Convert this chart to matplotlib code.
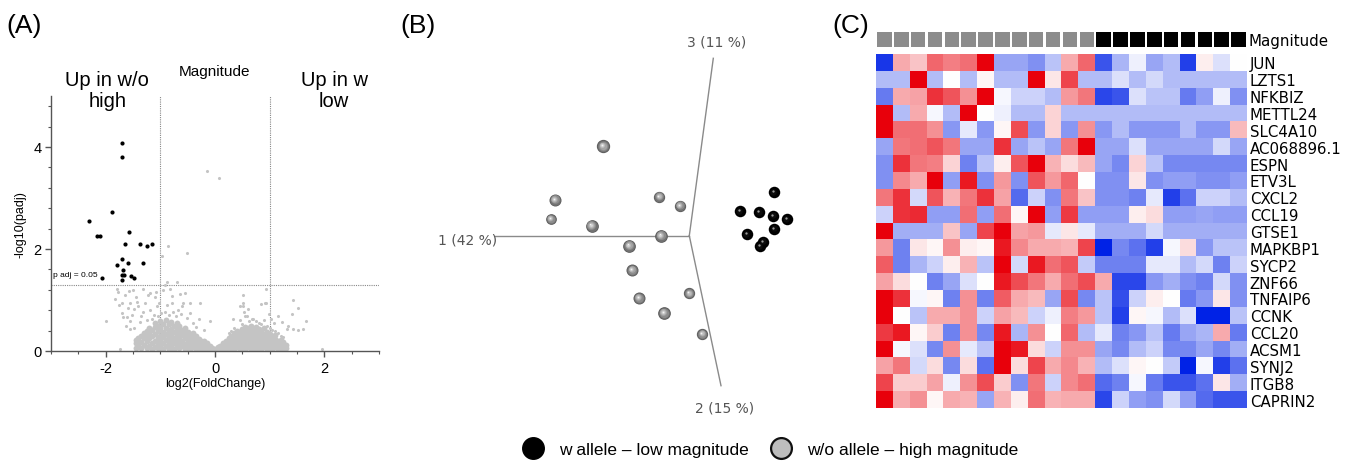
import numpy as np
import matplotlib
matplotlib.use("Agg")
import matplotlib.pyplot as plt
from matplotlib.colors import LinearSegmentedColormap
from matplotlib.lines import Line2D

# ---------------- DATA ----------------
# Panel A: volcano plot
sig_x = [-1.70, -1.70, -1.88, -2.31, -2.15, -2.11, -1.58, -1.65, -1.37, -1.25, -1.16,
         -1.70, -1.79, -1.59, -1.31, -1.69, -1.71, -1.67, -1.54, -1.48, -2.07, -1.71]
sig_y = [4.08, 3.80, 2.73, 2.54, 2.25, 2.25, 2.33, 2.09, 2.09, 2.05, 2.09,
         1.80, 1.68, 1.73, 1.73, 1.58, 1.50, 1.50, 1.48, 1.43, 1.44, 1.40]

ns_sparse = [(-0.15, 3.52), (0.07, 3.39), (-0.86, 2.05), (-0.51, 1.92), (-0.97, 1.86),
             (-1.80, 1.22), (-1.58, 1.18), (-1.50, 1.20), (-1.31, 1.21), (-0.88, 1.35),
             (-0.69, 1.36), (-0.91, 1.29), (-1.83, 1.02), (-1.99, 0.59), (-1.69, 0.66),
             (-1.70, 0.95), (-1.55, 0.95), (-1.43, 0.96), (-1.19, 1.13), (-1.10, 1.05),
             (-1.06, 0.88), (-0.82, 1.21), (-0.79, 1.08), (-0.64, 1.11), (-0.55, 1.13),
             (-0.46, 0.95), (-0.27, 0.95), (-0.09, 0.59), (-0.61, 0.88), (-0.76, 0.76),
             (-0.91, 0.77), (-1.31, 0.76), (-1.49, 0.82), (-1.61, 0.66), (-1.37, 0.56),
             (-1.55, 0.43), (-1.74, 0.04),
             (-1.75, 0.90), (-1.65, 1.10), (-1.60, 0.85), (-1.52, 0.70), (-1.45, 1.05),
             (-1.40, 0.88), (-1.35, 0.68), (-1.28, 0.95), (-1.22, 1.10), (-1.18, 0.80),
             (-1.12, 0.70), (-1.08, 1.15), (-1.02, 0.95), (-0.98, 0.75), (-0.95, 1.20),
             (-0.88, 0.90), (-0.85, 0.70), (-0.78, 0.95), (-0.72, 0.68), (-0.68, 0.80),
             (-0.62, 0.72), (-0.58, 0.95), (-0.52, 0.65), (-0.45, 0.75), (-0.40, 0.55),
             (-0.35, 0.48), (-0.30, 0.62), (-0.20, 0.42), (-1.55, 0.58), (-1.48, 0.45),
             (-1.62, 0.50), (-1.70, 0.75), (-1.78, 1.15), (-1.25, 0.60), (-1.15, 0.62),
             (-1.05, 0.68),
             (0.51, 1.10), (0.52, 0.95), (0.46, 0.88), (0.85, 0.93), (0.91, 0.94),
             (0.94, 1.21), (0.94, 0.95), (1.16, 0.69), (1.22, 0.56), (1.42, 1.00),
             (1.52, 0.85), (1.40, 0.72), (1.67, 0.59), (1.61, 0.44), (1.52, 0.41),
             (1.43, 0.43), (1.31, 0.43), (1.34, 0.49), (0.53, 0.76), (0.58, 0.69),
             (0.70, 0.63), (1.95, 0.04), (0.33, 0.63),
             (0.45, 0.60), (0.50, 0.52), (0.55, 0.68), (0.62, 0.58), (0.68, 0.62),
             (0.75, 0.58), (0.80, 0.55), (0.85, 0.52), (0.90, 0.60), (0.95, 0.50),
             (1.00, 0.45), (1.05, 0.42), (1.10, 0.40), (1.15, 0.35), (1.20, 0.30),
             (1.25, 0.28), (0.35, 0.45), (0.30, 0.40), (0.25, 0.35), (0.98, 0.72),
             (1.02, 0.62), (1.08, 0.55), (0.60, 0.82), (0.52, 0.88)]

ns_dense = [(-1.45, 0.05), (-1.45, 0.15), (-1.45, 0.22), (-1.40, 0.10), (-1.40, 0.25),
            (-1.35, 0.05), (-1.35, 0.18), (-1.35, 0.30), (-1.30, 0.12), (-1.30, 0.25),
            (-1.30, 0.35), (-1.25, 0.05), (-1.25, 0.20), (-1.25, 0.32), (-1.25, 0.40),
            (-1.20, 0.10), (-1.20, 0.25), (-1.20, 0.38), (-1.20, 0.45), (-1.15, 0.03),
            (-1.15, 0.15), (-1.15, 0.30), (-1.15, 0.42), (-1.10, 0.08), (-1.10, 0.20),
            (-1.10, 0.33), (-1.10, 0.48), (-1.10, 0.55), (-1.05, 0.05), (-1.05, 0.14),
            (-1.05, 0.26), (-1.05, 0.40), (-1.05, 0.50), (-1.00, 0.10), (-1.00, 0.20),
            (-1.00, 0.30), (-1.00, 0.45), (-1.00, 0.58), (-0.95, 0.04), (-0.95, 0.16),
            (-0.95, 0.28), (-0.95, 0.38), (-0.95, 0.52), (-0.90, 0.09), (-0.90, 0.22),
            (-0.90, 0.34), (-0.90, 0.46), (-0.90, 0.60), (-0.85, 0.03), (-0.85, 0.14),
            (-0.85, 0.27), (-0.85, 0.40), (-0.85, 0.52), (-0.80, 0.08), (-0.80, 0.20),
            (-0.80, 0.32), (-0.80, 0.44), (-0.80, 0.57), (-0.75, 0.04), (-0.75, 0.15),
            (-0.75, 0.26), (-0.75, 0.38), (-0.75, 0.50), (-0.70, 0.10), (-0.70, 0.22),
            (-0.70, 0.33), (-0.70, 0.45), (-0.70, 0.55), (-0.65, 0.05), (-0.65, 0.16),
            (-0.65, 0.28), (-0.65, 0.40), (-0.65, 0.50), (-0.60, 0.09), (-0.60, 0.20),
            (-0.60, 0.31), (-0.60, 0.42), (-0.55, 0.03), (-0.55, 0.14), (-0.55, 0.25),
            (-0.55, 0.36), (-0.55, 0.46), (-0.50, 0.08), (-0.50, 0.18), (-0.50, 0.29),
            (-0.50, 0.38), (-0.45, 0.04), (-0.45, 0.13), (-0.45, 0.23), (-0.45, 0.33),
            (-0.40, 0.08), (-0.40, 0.17), (-0.40, 0.27), (-0.40, 0.36), (-0.35, 0.03),
            (-0.35, 0.12), (-0.35, 0.21), (-0.35, 0.30), (-0.30, 0.07), (-0.30, 0.15),
            (-0.30, 0.24), (-0.25, 0.03), (-0.25, 0.10), (-0.25, 0.19), (-0.20, 0.06),
            (-0.20, 0.13), (-0.20, 0.20), (-0.15, 0.03), (-0.15, 0.09), (-0.15, 0.15),
            (-0.10, 0.05), (-0.10, 0.10), (-0.05, 0.02), (-0.05, 0.06), (0.00, 0.03),
            (0.05, 0.02), (0.05, 0.07), (0.10, 0.04), (0.10, 0.10),
            (0.15, 0.03), (0.15, 0.09), (0.15, 0.16), (0.20, 0.06), (0.20, 0.13),
            (0.20, 0.20), (0.25, 0.03), (0.25, 0.10), (0.25, 0.18), (0.25, 0.25),
            (0.30, 0.07), (0.30, 0.15), (0.30, 0.23), (0.30, 0.30), (0.35, 0.04),
            (0.35, 0.12), (0.35, 0.20), (0.35, 0.28), (0.35, 0.35), (0.40, 0.08),
            (0.40, 0.16), (0.40, 0.25), (0.40, 0.33), (0.40, 0.40), (0.45, 0.03),
            (0.45, 0.12), (0.45, 0.21), (0.45, 0.30), (0.45, 0.38), (0.50, 0.07),
            (0.50, 0.16), (0.50, 0.25), (0.50, 0.34), (0.50, 0.44), (0.55, 0.04),
            (0.55, 0.12), (0.55, 0.20), (0.55, 0.29), (0.55, 0.38), (0.55, 0.48),
            (0.60, 0.08), (0.60, 0.17), (0.60, 0.26), (0.60, 0.35), (0.60, 0.45),
            (0.65, 0.03), (0.65, 0.12), (0.65, 0.21), (0.65, 0.30), (0.65, 0.40),
            (0.65, 0.50), (0.70, 0.07), (0.70, 0.16), (0.70, 0.25), (0.70, 0.34),
            (0.70, 0.44), (0.75, 0.04), (0.75, 0.12), (0.75, 0.20), (0.75, 0.30),
            (0.75, 0.39), (0.75, 0.48), (0.80, 0.08), (0.80, 0.17), (0.80, 0.26),
            (0.80, 0.35), (0.80, 0.44), (0.85, 0.03), (0.85, 0.12), (0.85, 0.21),
            (0.85, 0.30), (0.85, 0.40), (0.90, 0.07), (0.90, 0.16), (0.90, 0.25),
            (0.90, 0.34), (0.90, 0.45), (0.95, 0.04), (0.95, 0.12), (0.95, 0.20),
            (0.95, 0.29), (0.95, 0.38), (1.00, 0.08), (1.00, 0.16), (1.00, 0.25),
            (1.00, 0.33), (1.05, 0.03), (1.05, 0.11), (1.05, 0.19), (1.05, 0.28),
            (1.10, 0.07), (1.10, 0.15), (1.10, 0.23), (1.10, 0.31), (1.15, 0.04),
            (1.15, 0.11), (1.15, 0.19), (1.20, 0.07), (1.20, 0.14), (1.20, 0.22),
            (1.25, 0.04), (1.25, 0.10), (1.25, 0.17), (1.30, 0.06), (1.30, 0.12)]

fc_cut = 1.0
padj_cut = 1.30   # -log10(0.05)

# Panel B: PCA projected scores (projected 2D coordinates)
pca_gray_x = [-8.6, -13.43, -13.83, -9.76, -3.0, -0.93, -2.83, -6.0, -5.7, -5.03, 0.0, -2.53, 1.3]
pca_gray_y = [8.94, 3.6, 1.67, 1.0, 3.9, 3.0, 0.0, -1.0, -3.43, -6.23, -5.76, -7.73, -9.83]
pca_gray_d = [13.3, 12.0, 10.7, 12.7, 11.3, 11.3, 12.7, 12.7, 12.0, 12.0, 11.3, 12.7, 11.3]
pca_black_x = [8.47, 5.07, 7.0, 8.4, 9.74, 8.5, 5.77, 7.4, 7.07]
pca_black_y = [4.34, 2.44, 2.34, 1.97, 1.64, 0.67, 0.14, -0.6, -1.06]
pc_axis_labels = ["1 (42 %)", "2 (15 %)", "3 (11 %)"]

# Panel C: heatmap
genes = ["JUN", "LZTS1", "NFKBIZ", "METTL24", "SLC4A10", "AC068896.1", "ESPN", "ETV3L",
         "CXCL2", "CCL19", "GTSE1", "MAPKBP1", "SYCP2", "ZNF66", "TNFAIP6", "CCNK",
         "CCL20", "ACSM1", "SYNJ2", "ITGB8", "CAPRIN2"]
magnitude_group = ["high"] * 13 + ["low"] * 9
heat_JUN = [-2.7, 1.0, 0.7, 1.8, 1.5, 1.7, 3.0, -1.2, -1.2, -1.5, -0.8, 1.0, 1.8, -2.3, -1.0, -0.2, -1.2, -0.9, -2.6, 0.2, -0.4, 0.0]
heat_LZTS1 = [-0.9, -0.9, 3.0, -0.9, 0.0, -0.9, 0.1, -0.9, -0.9, 3.0, 0.3, 2.2, -0.9, -0.9, -0.4, -0.9, -0.5, -0.9, -0.9, -0.9, -0.9, -0.9]
heat_NFKBIZ = [-1.8, 1.0, 1.1, 2.4, 2.0, 1.3, 3.0, -0.1, -0.6, -0.6, -0.9, 1.2, 1.6, -2.5, -2.3, -0.4, -0.8, -0.8, -1.8, -1.3, -0.2, -1.5]
heat_METTL24 = [3.0, -0.9, 1.0, -0.1, -0.9, 3.0, 0.0, -0.2, -0.9, -0.9, 0.5, -0.9, -0.9, -0.9, -0.9, -0.9, -0.9, -0.9, -0.9, -0.9, -0.9, -0.9]
heat_SLC4A10 = [3.0, 1.7, 1.7, 1.3, -1.4, -0.3, -1.4, 0.1, 2.1, -1.4, 0.5, -1.4, 1.3, -1.4, -0.9, -1.4, -1.4, -1.4, -0.9, -1.4, -1.4, 0.8]
heat_AC068896 = [-1.2, 1.6, 1.7, 2.0, 1.6, -1.2, -1.2, 2.4, -1.2, -0.8, -1.2, 1.6, 3.0, -1.2, -1.2, -0.4, -1.2, -1.2, -1.2, -1.2, -0.5, -1.2]
heat_ESPN = [-1.5, 2.4, 1.6, 1.5, 0.5, -1.7, -0.8, 0.2, 2.0, 3.0, 0.9, 0.4, 0.8, -1.2, -1.6, 0.5, -0.8, -1.6, -1.6, -1.6, -1.6, -1.6]
heat_ETV3L = [-1.5, 1.4, 1.0, 3.0, -1.3, 2.7, -1.5, 1.2, -1.5, 2.0, 1.2, 1.8, 0.0, -1.5, -1.5, 0.3, -1.5, -1.3, -1.3, -1.5, -1.5, -1.3]
heat_CXCL2 = [1.6, 2.4, -0.5, 2.0, 0.9, 1.6, 2.4, 1.1, -2.0, -0.6, -1.5, 1.6, 0.7, -1.5, -1.5, -1.7, -0.3, -2.6, -1.9, -0.6, -0.6, -0.9]
heat_CCL19 = [-0.6, 2.4, 2.5, -1.3, -1.3, 1.7, -1.3, 1.7, 0.1, 3.0, -1.3, 2.3, -1.3, -1.3, -1.3, 0.2, 0.4, -1.3, -1.3, -1.2, -1.3, -1.3]
heat_GTSE1 = [3.0, -1.1, -1.1, -1.1, 0.7, -1.2, 2.2, 3.0, 1.1, 1.2, -0.3, 0.3, -0.3, -1.1, -1.1, -1.1, -0.5, -1.1, -1.1, -1.1, -1.1, -1.1]
heat_MAPKBP1 = [1.2, -1.7, 0.3, 0.1, 1.3, 0.2, 0.1, 2.7, 1.4, 1.0, 1.0, 0.9, 2.2, -3.0, -1.6, -1.9, -2.6, -0.1, 0.4, -1.4, -0.8, -0.8]
heat_SYCP2 = [1.9, -1.7, -1.0, -0.6, 0.2, 0.9, -0.8, 3.0, -0.5, 2.7, 1.7, 2.0, -0.7, -1.7, -1.7, -1.7, -0.3, -0.3, -0.9, -0.5, -1.7, -0.6]
heat_ZNF66 = [1.1, 0.4, 0.0, -1.7, -1.2, -0.4, 0.0, 2.7, 2.1, 1.6, 1.0, 1.7, 2.1, 1.0, -2.5, -2.5, -1.4, -1.1, -1.5, -1.7, -0.5, -1.5]
heat_TNFAIP6 = [3.0, 2.4, -0.1, 0.1, -1.7, 1.3, -1.7, 1.9, 1.0, 0.8, -1.2, 2.1, -1.6, -0.8, -2.4, -0.6, 0.2, 0.0, -1.8, -1.4, 0.3, -1.5]
heat_CCNK = [3.0, 0.0, -0.8, 1.0, 1.0, 1.3, -0.6, 1.1, 0.8, -0.6, -0.2, 1.5, 1.2, -0.8, -2.6, 0.1, -0.1, -0.9, -0.4, -3.0, -3.0, -0.8]
heat_CCL20 = [2.3, 2.7, 0.1, 0.6, -1.7, 1.3, -1.6, 2.7, -1.0, 1.3, 0.0, 1.8, -0.9, -0.3, -1.7, -1.4, -0.8, -1.8, -1.2, -1.0, 1.0, -1.8]
heat_ACSM1 = [3.0, -0.1, -0.4, -1.6, 1.3, -0.3, -0.8, 3.0, 2.7, 0.4, -0.6, 1.3, 1.3, -1.2, -1.6, -0.9, -0.6, -1.6, -1.6, -1.2, -1.6, -1.1]
heat_SYNJ2 = [1.1, 1.6, -0.5, 0.4, -1.6, 0.4, -1.9, 3.0, 0.4, 2.2, 1.0, 1.4, 0.9, -0.9, -0.4, 0.1, 0.0, -0.7, -3.0, -0.1, -2.6, -1.9]
heat_ITGB8 = [2.2, 0.6, 0.6, 1.1, -0.2, 1.3, 2.1, 0.6, -1.5, 1.6, -0.6, 1.4, 1.7, -2.0, -1.7, -0.1, -1.8, -2.3, -2.3, -1.9, 0.3, -1.1]
heat_CAPRIN2 = [3.0, 1.0, 1.3, 0.1, 1.0, 0.9, -1.2, 0.9, 0.2, 1.7, 0.9, 1.0, 1.0, -2.5, -0.6, -1.3, -1.5, -0.5, -1.3, -2.0, -2.3, -2.3]

legend_labels = ["w allele \u2013 low magnitude", "w/o allele \u2013 high magnitude"]

# ---------------- FIGURE ----------------
W, H = 1355, 464
fig = plt.figure(figsize=(W / 100, H / 100), dpi=100)
fig.patch.set_facecolor("white")

def px_rect(x0, y0, x1, y1):
    return [x0 / W, 1 - y1 / H, (x1 - x0) / W, (y1 - y0) / H]

SANS = ["Liberation Sans", "DejaVu Sans"]
VERD = ["DejaVu Sans"]

# Panel labels
for lbl, xp in [("(A)", 6), ("(B)", 400), ("(C)", 832)]:
    fig.text(xp / W, 1 - 26 / H, lbl, fontsize=19, family=SANS, ha="left", va="center")

# ---------- Panel A ----------
axA = fig.add_axes(px_rect(51, 97, 379, 352))
dense = np.array(ns_dense)
sparse = np.array(ns_sparse)
axA.scatter(dense[:, 0], dense[:, 1], s=18, color="#c4c4c4", linewidths=0, zorder=2)
axA.scatter(sparse[:, 0], sparse[:, 1], s=5, color="#c4c4c4", linewidths=0, zorder=2)
axA.scatter(sig_x, sig_y, s=9, color="black", linewidths=0, zorder=3)
axA.axvline(-fc_cut, color="#888888", ls=(0, (1, 1)), lw=0.8, zorder=1)
axA.axvline(fc_cut, color="#888888", ls=(0, (1, 1)), lw=0.8, zorder=1)
axA.axhline(padj_cut, color="#888888", ls=(0, (1, 1)), lw=0.8, zorder=1)
axA.set_xlim(-3, 3)
axA.set_ylim(0, 5)
axA.set_xticks([-2, 0, 2])
axA.set_xticklabels(["-2", "0", "2"])
axA.set_yticks([0, 2, 4])
axA.set_xticks(np.arange(-3, 3.01, 0.5), minor=True)
axA.set_yticks(np.arange(0, 5.01, 0.4), minor=True)
for s in ["top", "right"]:
    axA.spines[s].set_visible(False)
for s in ["left", "bottom"]:
    axA.spines[s].set_color("#555555")
    axA.spines[s].set_linewidth(1.0)
axA.tick_params(which="major", length=4, width=1, color="#555555", labelsize=10.5, pad=3)
axA.tick_params(which="minor", length=2.5, width=0.8, color="#555555")
for t in axA.get_xticklabels() + axA.get_yticklabels():
    t.set_family(SANS)
axA.set_xlabel("log2(FoldChange)", fontsize=9, family=SANS, labelpad=2)
axA.set_ylabel("-log10(padj)", fontsize=9, family=SANS, labelpad=5)
axA.text(-2.97, 1.50, "p adj = 0.05", fontsize=6, family=SANS, ha="left", va="center")
axA.text(0, 5.49, "Magnitude", fontsize=11, family=SANS, ha="center", va="center")
axA.text(-1.97, 5.12, "Up in w/o\nhigh", fontsize=14.5, family=SANS, ha="center", va="center",
         linespacing=1.15)
axA.text(2.18, 5.12, "Up in w\nlow", fontsize=14.5, family=SANS, ha="center", va="center",
         linespacing=1.15)
for t in axA.texts:
    t.set_clip_on(False)

# ---------- Panel B ----------
ox, oy = 689.3, 236.7
axB = fig.add_axes(px_rect(400, 0, 830, 430))
axB.set_xlim((400 - ox) / 10, (830 - ox) / 10)
axB.set_ylim((oy - 430) / 10, (oy - 0) / 10)
axB.axis("off")
axis_ends = {"1": (-19.43, 0.0), "2": (3.17, -15.0), "3": (2.4, 17.74)}
for k, (ex, ey) in axis_ends.items():
    axB.plot([0, ex], [0, ey], color="#8a8a8a", lw=1.0, zorder=1)
axB.text(-19.2, -0.4, pc_axis_labels[0], fontsize=10, family=VERD, color="#555555",
         ha="right", va="center")
axB.text(3.57, -17.16, pc_axis_labels[1], fontsize=10, family=VERD, color="#555555",
         ha="center", va="center")
axB.text(2.74, 19.4, pc_axis_labels[2], fontsize=10, family=VERD, color="#555555",
         ha="center", va="center")

gray_layers = [(1.0, "#5a5a5a"), (0.88, "#727272"), (0.72, "#8c8c8c"),
               (0.55, "#a5a5a5"), (0.38, "#bdbdbd"), (0.22, "#d8d8d8"), (0.1, "#f4f4f4")]
for x, y, d in zip(pca_gray_x, pca_gray_y, pca_gray_d):
    r = d / 2 / 10
    for k, (sc, col) in enumerate(gray_layers):
        off = (1 - sc) * r * 0.22
        axB.scatter([x - off], [y + off], s=(d * 0.72 * sc) ** 2, color=col,
                    linewidths=0, zorder=3 + k)
black_layers = [(1.0, "#000000"), (0.55, "#0c0c0c"), (0.2, "#9a9a9a")]
for x, y in zip(pca_black_x, pca_black_y):
    d = 11.5
    r = d / 2 / 10
    for k, (sc, col) in enumerate(black_layers):
        off = (1 - sc) * r * 0.25
        axB.scatter([x - off], [y + off], s=(d * 0.72 * sc) ** 2, color=col,
                    linewidths=0, zorder=3 + k)

# ---------- Panel C ----------
heat = np.array([heat_JUN, heat_LZTS1, heat_NFKBIZ, heat_METTL24, heat_SLC4A10,
                 heat_AC068896, heat_ESPN, heat_ETV3L, heat_CXCL2, heat_CCL19,
                 heat_GTSE1, heat_MAPKBP1, heat_SYCP2, heat_ZNF66, heat_TNFAIP6,
                 heat_CCNK, heat_CCL20, heat_ACSM1, heat_SYNJ2, heat_ITGB8, heat_CAPRIN2])
cmap = LinearSegmentedColormap.from_list("bwr2", ["#0022e6", "#ffffff", "#e8000b"])
axC = fig.add_axes(px_rect(876, 55, 1247, 409))
axC.imshow(heat, cmap=cmap, vmin=-3, vmax=3, aspect="auto", interpolation="nearest")
axC.set_xticks([])
axC.yaxis.tick_right()
axC.set_yticks(range(len(genes)))
axC.set_yticklabels(genes, fontsize=10.8, family=VERD)
axC.tick_params(axis="y", length=0, pad=2)
for s in axC.spines.values():
    s.set_visible(False)

axAnn = fig.add_axes(px_rect(876, 32.7, 1247, 47.5))
ann_colors = ["#8c8c8c" if g == "high" else "#000000" for g in magnitude_group]
axAnn.bar(range(len(magnitude_group)), [1] * len(magnitude_group), width=0.86,
          color=ann_colors, linewidth=0)
axAnn.set_xlim(-0.5, len(magnitude_group) - 0.5)
axAnn.set_ylim(0, 1)
axAnn.axis("off")
axAnn.text(1.0 + 2 / 371, 0.4, "Magnitude", transform=axAnn.transAxes, fontsize=10.8,
           family=VERD, ha="left", va="center")

# ---------- Legend ----------
handles = [Line2D([], [], marker="o", ls="", markersize=15.5, markerfacecolor="black",
                  markeredgecolor="black"),
           Line2D([], [], marker="o", ls="", markersize=15, markerfacecolor="#bdbdbd",
                  markeredgecolor="#111111", markeredgewidth=1.6)]
fig.legend(handles, legend_labels, loc="center left", bbox_to_anchor=(523 / W, 1 - 450 / H),
           ncol=2, frameon=False, prop={"family": SANS, "size": 12.5},
           handlelength=1.2, handletextpad=0.9, columnspacing=1.25,
           borderpad=0, borderaxespad=0)

fig.savefig("out.png", dpi=100, facecolor="white")
